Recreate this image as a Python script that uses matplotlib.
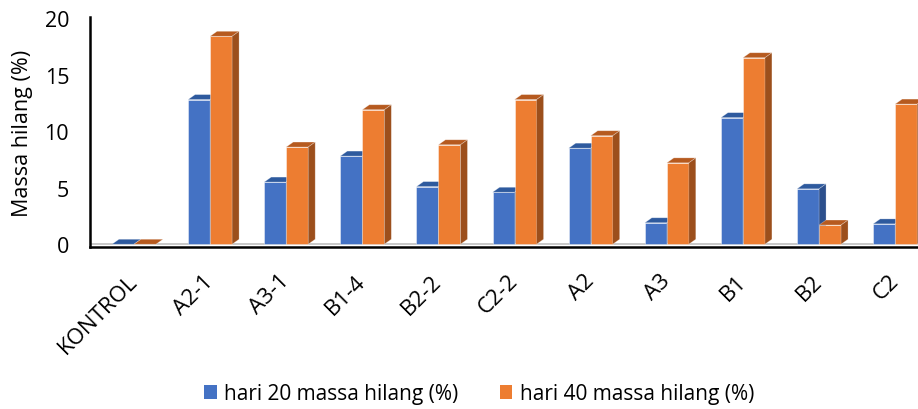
import numpy as np
import matplotlib
matplotlib.use('Agg')
import matplotlib.pyplot as plt
from matplotlib.patches import Polygon, Patch

plt.rcParams['font.family'] = ['Open Sans', 'DejaVu Sans']

# Massa hilang (%) tiap sampel
sampel = ['KONTROL', 'A2-1', 'A3-1', 'B1-4', 'B2-2', 'C2-2', 'A2', 'A3', 'B1', 'B2', 'C2']
hari_20 = [0.0, 12.8, 5.5, 7.8, 5.1, 4.6, 8.5, 1.9, 11.2, 4.9, 1.8]
hari_40 = [0.0, 18.4, 8.6, 11.9, 8.8, 12.8, 9.6, 7.2, 16.5, 1.7, 12.4]

label_20 = 'hari 20 massa hilang (%)'
label_40 = 'hari 40 massa hilang (%)'

# warna muka depan, atas, samping
warna_20 = ('#4472C4', '#2E5A9E', '#2C4F8C')
warna_40 = ('#ED7D31', '#B65A1F', '#9C4F1C')

lebar = 0.289
dx, dy = 0.092, 0.44   # kedalaman efek 3D


def batang_3d(ax, x0, h, warna):
    depan, atas, samping = warna
    ax.bar(x0, h, width=lebar, align='edge', color=depan,
           edgecolor=(1, 1, 1, 0.5), linewidth=0.6, zorder=3)
    top = Polygon([(x0, h), (x0 + dx, h + dy), (x0 + lebar + dx, h + dy), (x0 + lebar, h)],
                  closed=True, facecolor=atas, edgecolor=(1, 1, 1, 0.35), linewidth=0.5, zorder=3)
    ax.add_patch(top)
    if h > 0:
        side = Polygon([(x0 + lebar, 0), (x0 + lebar, h), (x0 + lebar + dx, h + dy), (x0 + lebar + dx, dy)],
                       closed=True, facecolor=samping, edgecolor=(1, 1, 1, 0.35), linewidth=0.5, zorder=3)
        ax.add_patch(side)


fig = plt.figure(figsize=(9.18, 4.10), dpi=100)
ax = fig.add_axes([0.098, 0.395, 0.902, 0.561])

x = np.arange(len(sampel))
for i in x:
    batang_3d(ax, i - lebar, hari_20[i], warna_20)
    batang_3d(ax, i, hari_40[i], warna_40)

ax.axhline(-0.02, color='#bfbfbf', linewidth=1.2, zorder=2)

ax.set_xlim(-0.578, 10.30)
ax.set_ylim(-0.25, 20.1)
ax.set_yticks([0, 5, 10, 15, 20])
ax.set_xticks(x)
ax.set_xticklabels(sampel, rotation=45, ha='right', va='center', rotation_mode='anchor', fontsize=16)
ax.tick_params(axis='x', length=0, pad=22)
ax.tick_params(axis='y', length=0, labelsize=15.5, pad=15)
ax.set_ylabel('Massa hilang (%)', fontsize=15.5, labelpad=8)

for s in ['top', 'right']:
    ax.spines[s].set_visible(False)
ax.spines['left'].set_linewidth(1.8)
ax.spines['bottom'].set_linewidth(1.8)

handles = [Patch(facecolor=warna_20[0], label=label_20),
           Patch(facecolor=warna_40[0], label=label_40)]
fig.legend(handles=handles, loc='center', bbox_to_anchor=(0.522, 0.037), ncol=2,
           frameon=False, fontsize=15, handlelength=0.6, handleheight=0.6,
           handletextpad=0.35, columnspacing=2.0)

fig.savefig('out.png', dpi=100)
